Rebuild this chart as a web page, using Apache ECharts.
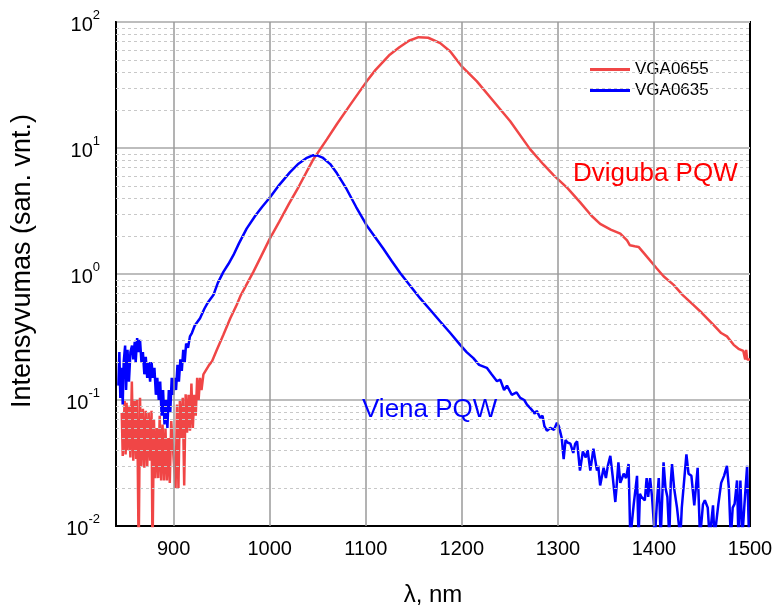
<!DOCTYPE html>
<html>
<head>
<meta charset="utf-8">
<script src="https://cdn.jsdelivr.net/npm/echarts@6/dist/echarts.min.js"></script>
<style>
html,body{margin:0;padding:0;background:#fff;}
#chart{width:776px;height:612px;}
</style>
</head>
<body>
<div id="chart"></div>
<script>
// ---- data ----
const xTickLabels = [900, 1000, 1100, 1200, 1300, 1400, 1500];
const yTickLabels = [0.01, 0.1, 1, 10, 100];

const redLambda = [846,847,849,850,851,852,853.5,855,856.5,858,859.5,861,862,863.6,865,866.5,868,869.5,871,872.5,874,875.5,877,878,879.5,881,882.5,884,885.5,887,888.5,890,891.5,893,894.5,896,897.5,899,900.5,902,903.5,905,906.5,908,909.5,911,912.5,914,915.5,917,918.5,920,921.5,923,924.5,926,927.5,929,931,933,937,940,945,951.8,959,965.7,970,975,983,990,1000,1010,1020,1030,1045.5,1059.5,1070,1083.75,1101,1110,1125,1135,1145,1155,1165,1177.5,1188,1200,1215.7,1233,1250.4,1271,1285,1295.5,1310,1323,1335,1344,1355,1365,1372,1375,1380,1384,1390,1403,1410,1420.5,1430,1441,1450,1462,1470,1476,1483,1488,1493,1495,1496,1497,1500];
const redValue = [0.079,0.036,0.098,0.037,0.095,0.04,0.09,0.035,0.14,0.033,0.098,0.034,0.1,0.006,0.104,0.03,0.085,0.029,0.082,0.03,0.08,0.033,0.082,0.006,0.07,0.024,0.06,0.024,0.075,0.023,0.064,0.023,0.06,0.023,0.05,0.022,0.068,0.045,0.045,0.02,0.092,0.02,0.098,0.05,0.104,0.021,0.111,0.055,0.11,0.057,0.135,0.06,0.11,0.075,0.15,0.1,0.15,0.12,0.16,0.165,0.19,0.203,0.25,0.33,0.446,0.57,0.68,0.8,1.04,1.33,1.9,2.6,3.6,4.9,8.15,11.7,15.5,22,33.8,41.5,55,63,71,75.8,75,68,58.3,44.4,33.8,23.5,16.3,9.8,7.4,6.1,4.8,3.72,2.9,2.5,2.25,2.09,1.85,1.69,1.66,1.64,1.45,1.105,0.96,0.82,0.68,0.568,0.49,0.395,0.34,0.32,0.274,0.255,0.245,0.21,0.25,0.21,0.21];

const blueLambda = [842.5,843.5,844.5,846,847,848,849.5,850.5,852,853.5,855,856.7,858,859.5,860.5,862,863.6,865,866.5,868,869.5,871,872.5,874,875.5,877,878.5,880,881.5,883,884.5,886,887.5,889,890.5,892,893.5,895,896.5,898,899.5,901,902.5,904,905.5,907,908.5,910,911.5,913,915,917,919,922,927.5,932,936,941.4,946,951.8,957,962.2,968,976,985,992,1000.4,1010,1021,1030,1038,1045.5,1050,1055,1063,1070,1080,1090,1101,1110,1118,1127,1135.8,1145,1156.7,1167,1177.5,1188,1198.3,1205,1212,1218,1226,1231,1236.6,1240,1244,1247,1252,1257,1260.8,1265,1267.8,1272,1276,1278,1281.7,1284,1286,1288.6,1292,1296,1299,1301,1304,1306,1308,1310,1313,1316,1318,1320,1323,1326,1329,1331,1333.75,1337,1339,1340.7,1342,1344,1346,1347.6,1350,1352,1354.6,1357,1359.8,1361,1363,1365,1368.5,1371,1373.6,1375.4,1377,1379,1380.7,1382.4,1384,1385.4,1387,1389,1390.5,1392.4,1394,1396,1398,1401,1403,1405,1407,1409,1410,1412,1414,1416,1417.5,1418.8,1421,1424,1426,1427.5,1429,1431,1433.8,1436,1439,1442,1445.5,1448,1451,1453,1456,1458,1461.5,1463,1467,1470,1473,1476,1478,1480,1482,1484,1486.5,1488,1490,1492,1494,1497,1499,1500];
const blueValue = [0.13,0.24,0.104,0.18,0.092,0.2,0.27,0.12,0.25,0.14,0.24,0.27,0.21,0.29,0.2,0.31,0.24,0.3,0.2,0.24,0.16,0.22,0.15,0.2,0.14,0.2,0.15,0.18,0.11,0.15,0.1,0.14,0.075,0.12,0.064,0.1,0.06,0.12,0.08,0.15,0.11,0.15,0.12,0.19,0.14,0.21,0.17,0.25,0.2,0.28,0.26,0.32,0.34,0.39,0.446,0.53,0.6,0.68,0.85,1.04,1.2,1.41,1.75,2.29,2.9,3.4,4.06,5.1,6.4,7.5,8.3,8.77,8.7,8.4,7.45,6.3,4.73,3.4,2.43,1.95,1.6,1.27,1.02,0.83,0.64,0.52,0.42,0.34,0.274,0.24,0.215,0.19,0.18,0.16,0.141,0.145,0.12,0.13,0.11,0.115,0.104,0.1,0.092,0.085,0.078,0.082,0.072,0.075,0.062,0.057,0.06,0.058,0.066,0.062,0.05,0.034,0.048,0.046,0.045,0.038,0.045,0.047,0.0275,0.039,0.035,0.04,0.0275,0.041,0.033,0.0275,0.03,0.021,0.025,0.029,0.024,0.03,0.036,0.025,0.0155,0.02,0.032,0.022,0.026,0.024,0.031,0.008,0.008,0.015,0.0148,0.025,0.008,0.018,0.017,0.0165,0.016,0.024,0.017,0.024,0.017,0.008,0.015,0.024,0.008,0.02,0.032,0.02,0.017,0.008,0.022,0.031,0.02,0.014,0.014,0.008,0.014,0.014,0.037,0.026,0.025,0.0146,0.029,0.008,0.0148,0.016,0.014,0.008,0.0146,0.008,0.0148,0.022,0.025,0.03,0.02,0.008,0.014,0.015,0.023,0.008,0.023,0.008,0.014,0.03,0.008,0.008];

const seriesNames = ['VGA0655', 'VGA0635'];
const annotations = ['Dviguba PQW', 'Viena PQW'];

// ---- build ----
const pairs = (xs, ys) => xs.map((x, i) => [x, ys[i]]);
const FONT = 'Liberation Sans, Arial, sans-serif';

const minorLines = [];
for (let k = -2; k <= 1; k++) {
  for (let m = 2; m <= 9; m++) minorLines.push({ yAxis: m * Math.pow(10, k) });
}
const vLines = xTickLabels.filter(v => v < 1500).map(v => ({ xAxis: v }));

const chart = echarts.init(document.getElementById('chart'), null, { renderer: 'canvas' });
chart.setOption({
  animation: false,
  backgroundColor: '#fff',
  textStyle: { fontFamily: FONT },
  grid: { left: 116, right: 26, top: 22, bottom: 83, show: true, borderColor: '#000', borderWidth: 2, backgroundColor: 'transparent' },
  legend: {
    orient: 'vertical', left: 586, top: 58, itemWidth: 40, itemHeight: 3, itemGap: 4,
    backgroundColor: '#fff', padding: [3, 4, 3, 4],
    textStyle: { fontSize: 17, color: '#000', fontFamily: FONT },
    data: [{ name: seriesNames[0], icon: 'rect' }, { name: seriesNames[1], icon: 'rect' }]
  },
  xAxis: {
    type: 'value', min: 840, max: 1500,
    axisLine: { show: true, lineStyle: { color: '#000', width: 2 } },
    axisTick: { show: false },
    splitLine: { show: false },
    axisLabel: { customValues: xTickLabels, formatter: v => String(v), fontSize: 20, color: '#000', margin: 13, fontFamily: FONT },
    name: 'λ, nm', nameLocation: 'middle', nameGap: 57,
    nameTextStyle: { fontSize: 24, color: '#000', fontFamily: FONT }
  },
  yAxis: {
    type: 'log', logBase: 10, min: 0.01, max: 100,
    axisLine: { show: true, lineStyle: { color: '#000', width: 2 } },
    axisTick: { show: false },
    splitLine: { show: true, lineStyle: { color: '#bdbdbd', width: 2 } },
    axisLabel: {
      margin: 16, color: '#000',
      formatter: v => '{b|10}{s|' + Math.round(Math.log10(v)) + '}',
      rich: {
        b: { fontSize: 20, color: '#000', fontFamily: FONT, padding: [6, 0, 0, 0] },
        s: { fontSize: 13, color: '#000', fontFamily: FONT, verticalAlign: 'top', padding: [0, 0, 6, 0] }
      }
    },
    name: 'Intensyvumas (san. vnt.)', nameLocation: 'middle', nameGap: 80,
    nameTextStyle: { fontSize: 27, color: '#000', fontFamily: FONT, padding: [0, 0, 0, 26] }
  },
  series: [
    {
      type: 'line', name: '__grid', data: [[840, 1]], showSymbol: false, silent: true, z: 1,
      lineStyle: { opacity: 0 },
      markLine: {
        silent: true, symbol: ['none', 'none'], label: { show: false }, animation: false,
        data: minorLines.map(d => Object.assign({}, d, { lineStyle: { color: '#c8c8c8', width: 1, type: [3, 3] } }))
          .concat(vLines.map(d => Object.assign({}, d, { lineStyle: { color: '#9a9a9a', width: 1.5, type: 'solid' } })))
      }
    },
    {
      type: 'line', name: seriesNames[0], data: pairs(redLambda, redValue), showSymbol: false, z: 3,
      lineStyle: { color: '#F04646', width: 2.5 }, itemStyle: { color: '#F04646' }
    },
    {
      type: 'line', name: seriesNames[1], data: pairs(blueLambda, blueValue), showSymbol: false, z: 4,
      lineStyle: { color: '#0000FF', width: 2.5 }, itemStyle: { color: '#0000FF' }
    }
  ],
  graphic: [
    { type: 'text', x: 573, y: 174, z: 10, style: { text: annotations[0], fill: '#FF0000', font: '26px ' + FONT, verticalAlign: 'middle' } },
    { type: 'text', x: 362, y: 410, z: 10, style: { text: annotations[1], fill: '#0000FF', font: '26px ' + FONT, verticalAlign: 'middle' } }
  ]
});
</script>
</body>
</html>
